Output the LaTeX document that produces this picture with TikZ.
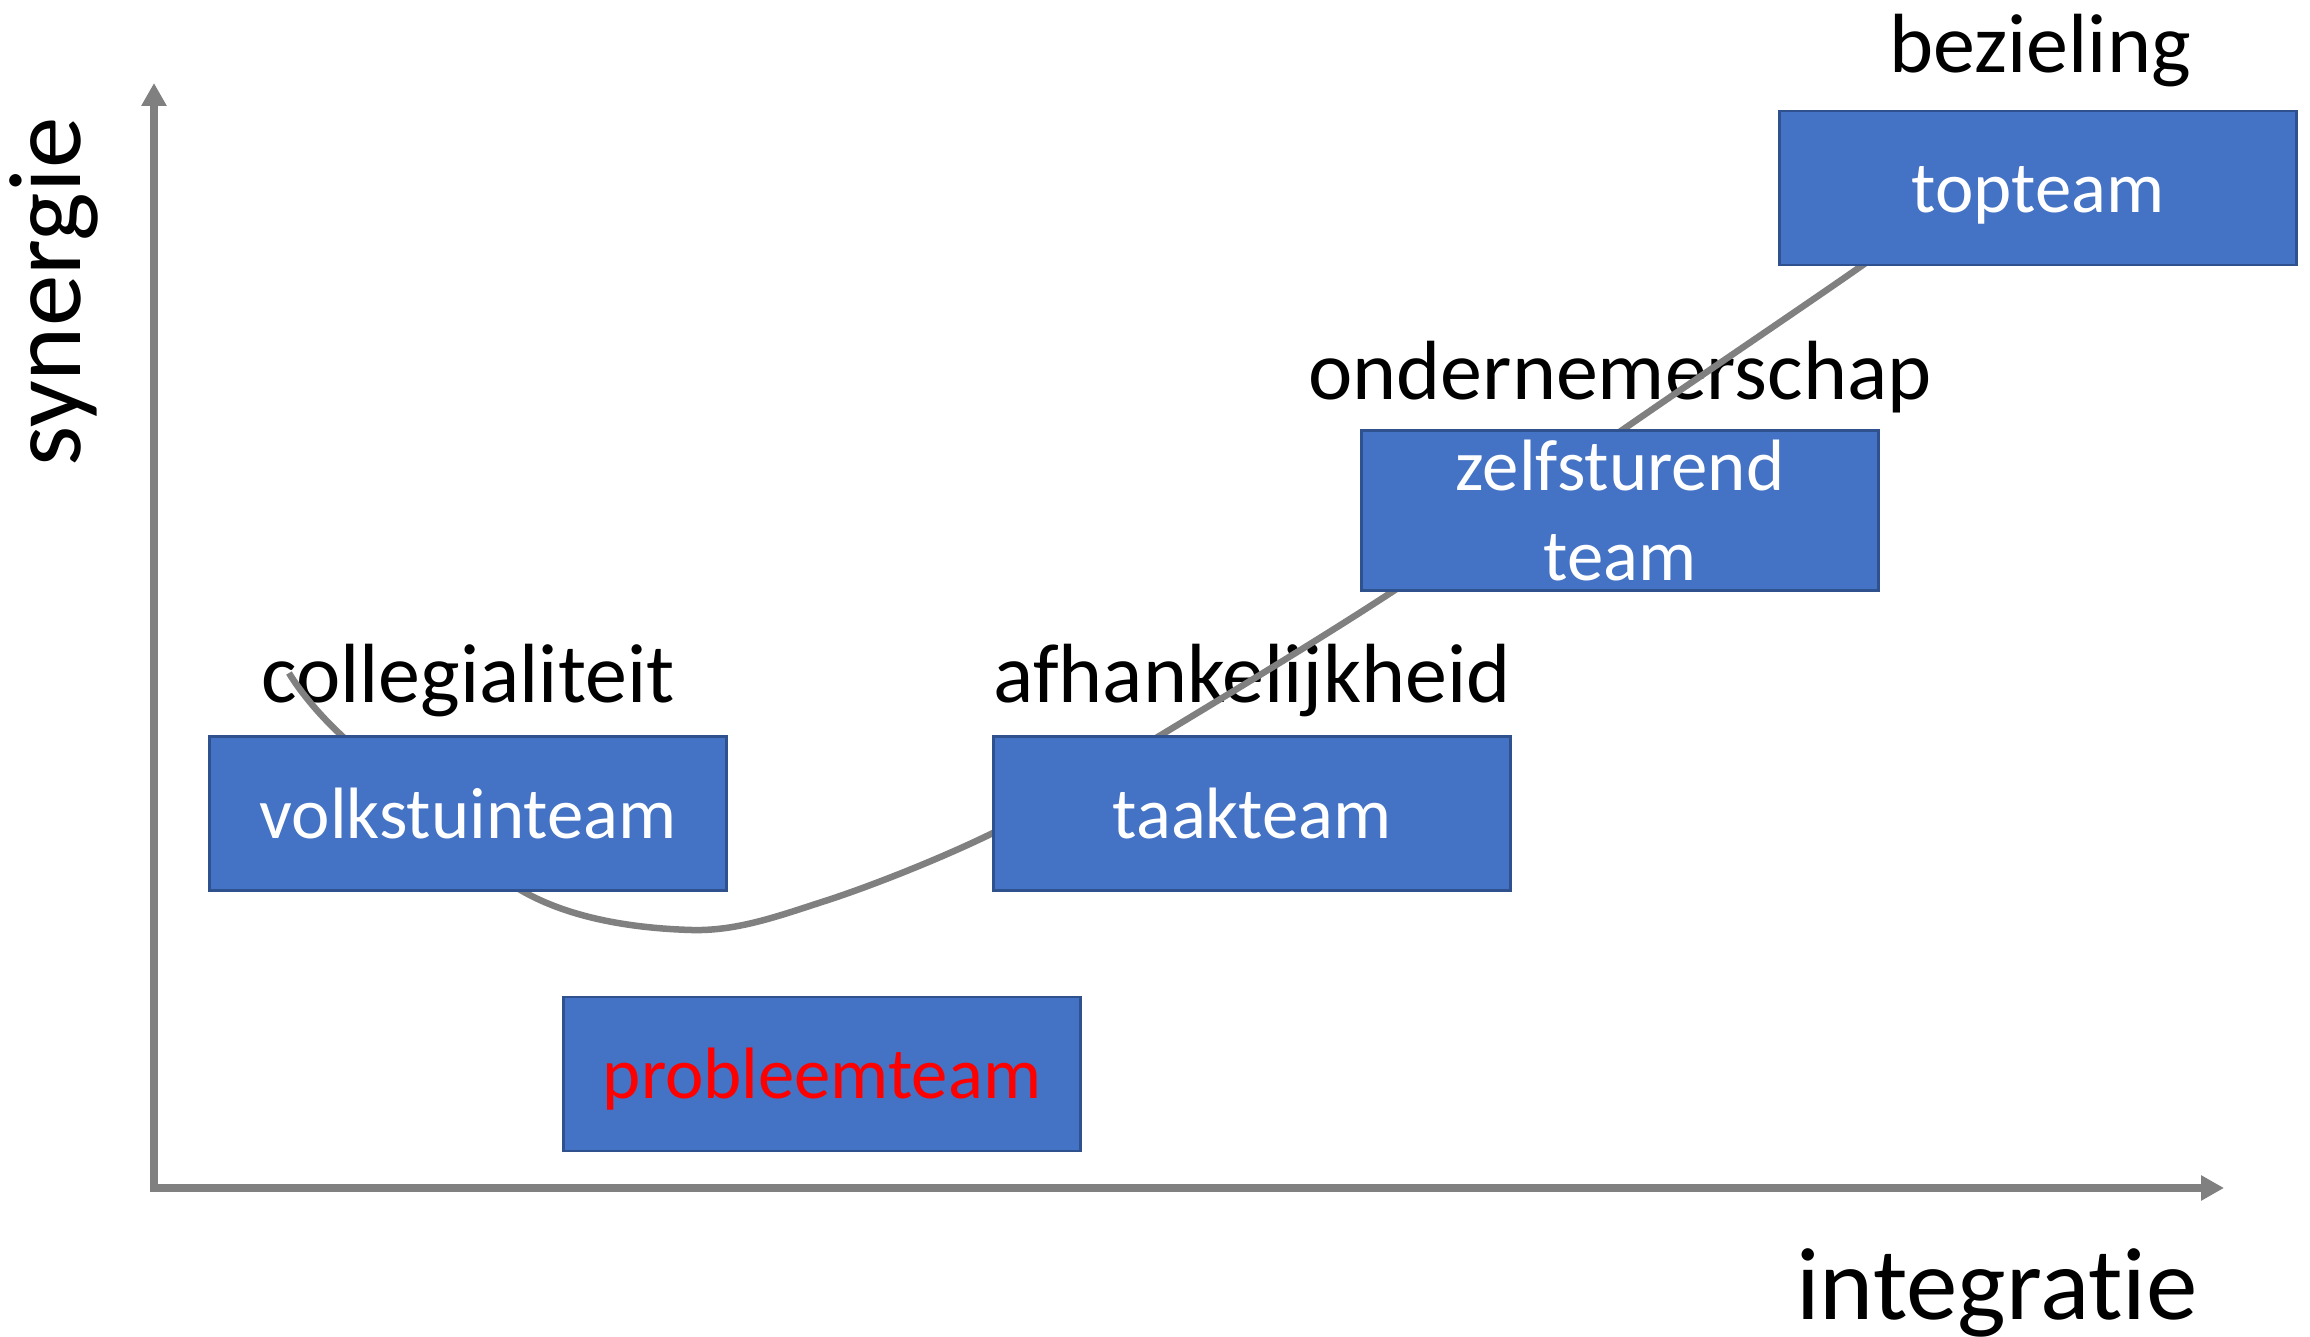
\documentclass[tikz,border=0pt]{standalone}
\usepackage{fontspec}
\setmainfont{Carlito}[Ligatures={NoCommon}]
\usepackage{tikz}
\usetikzlibrary{arrows.meta}
\usetikzlibrary{shapes}
\definecolor{boxblue}{HTML}{4472C4}
\definecolor{boxedge}{HTML}{2F528F}
\definecolor{axisgray}{HTML}{808080}
\newcommand{\boxfont}{\fontsize{20.7}{25.6}\selectfont}
\newcommand{\labelfont}{\fontsize{23.9}{28.7}\selectfont}
\newcommand{\axisfont}{\fontsize{29.3}{35}\selectfont}

\begin{document}
\begin{tikzpicture}[
  team/.style={rectangle, draw=boxedge, line width=0.6pt, fill=boxblue, text=white, inner sep=0pt,
    minimum width=5.17cm, minimum height=1.54cm, font=\boxfont, text height=0.6cm, text depth=0.1cm},
  lbl/.style={anchor=base, font=\labelfont},
  axis/.style={line width=0.08cm, draw=axisgray, line join=miter,
    {Triangle[width=0.24cm,length=0.23cm]}-{Triangle[width=0.24cm,length=0.23cm]}}
]
\useasboundingbox (0,0) rectangle (23.1,13.37);

\node[lbl] (C) at (4.68,6.34) {collegialiteit};
\node[lbl] (A) at (12.52,6.34) {afhankelijkheid};
\node[lbl] (O1) at (16.20,9.37) {ondernemerschap};
\node[lbl] (B) at (20.40,12.64) {bezieling};

\draw[axisgray, line width=0.065cm] plot[smooth, tension=0.55] coordinates
{(2.89,6.64) (3.41,6.02) (5.24,4.45) (6.91,4.07) (8.25,4.36) (9.95,5.05) (11.61,6.02)
 (13.98,7.49) (16.18,9.04) (18.60,10.70) (19.40,11.30)};

\node[team] (V) at (4.68,5.235) {volkstuinteam};
\node[team, text=red] (P) at (8.22,2.63) {probleemteam};
\node[team] (T) at (12.52,5.235) {taakteam};
\node[team, align=center, text height=1.5cm] (Z) at (16.20,8.265) {zelfsturend\\team};
\node[team] (TT) at (20.38,11.49) {topteam};

\coordinate (O) at (1.54,1.49);
\coordinate (Ytop) at (1.54,12.54);
\coordinate (Xend) at (22.24,1.49);
\draw[axis] (Ytop) -- (O) -- (Xend);

\node[anchor=base, rotate=90, font=\axisfont] (S) at (0.80,10.45) {synergie};
\node[anchor=base, font=\axisfont] (I) at (19.97,0.17) {integratie};
\end{tikzpicture}
\end{document}
